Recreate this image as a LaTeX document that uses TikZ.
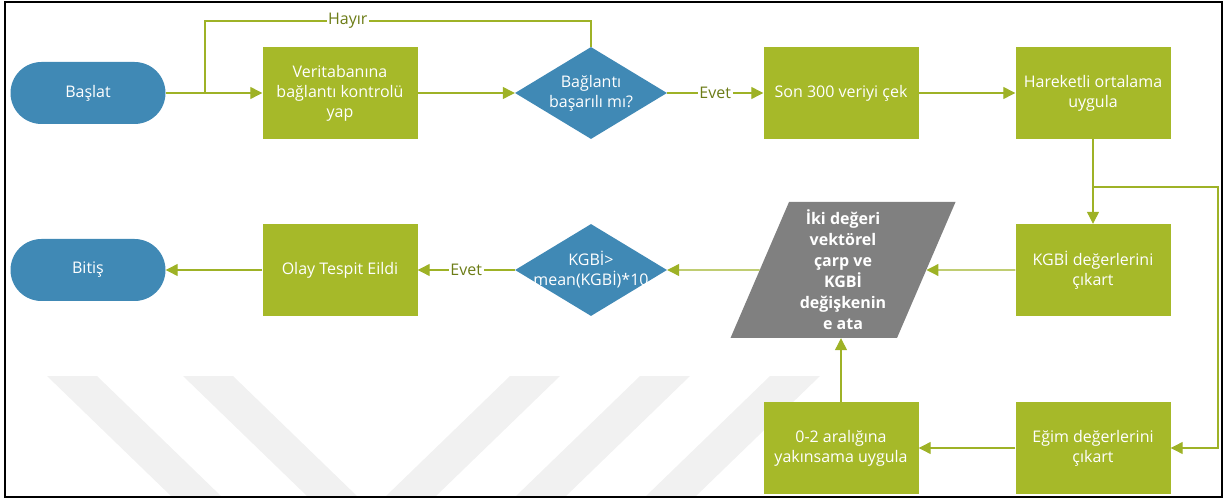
\documentclass[tikz,border=0pt]{standalone}
\usepackage{fontspec}
\setmainfont{Open Sans}
\usetikzlibrary{arrows.meta, shapes.geometric}

\definecolor{boxgreen}{RGB}{166,185,41}
\definecolor{linegreen}{RGB}{158,178,38}
\definecolor{steelblue}{RGB}{64,137,181}
\definecolor{taggreen}{RGB}{108,124,22}
\definecolor{wmark}{RGB}{241,241,241}

\begin{document}
\begin{tikzpicture}[x=1pt, y=-1pt, >={Triangle[length=12pt,width=12pt]},
    process/.style={rectangle, fill=boxgreen, text=white, minimum width=155pt, minimum height=92pt,
        align=center, inner sep=2pt, font=\fontsize{16}{20}\selectfont},
    terminal/.style={rectangle, rounded corners=31pt, fill=steelblue, text=white, minimum width=155pt,
        minimum height=62pt, font=\fontsize{16}{20}\selectfont},
    decision/.style={diamond, fill=steelblue, minimum width=152pt, minimum height=92pt, inner sep=0pt},
    dectext/.style={text=white, align=center, font=\fontsize{16}{20}\selectfont},
    datablock/.style={trapezium, trapezium left angle=64, trapezium right angle=116,
        trapezium stretches body, fill=gray, text=white, minimum width=225pt, minimum height=136pt,
        inner sep=0pt, align=center, font=\fontsize{16}{21}\selectfont\bfseries},
    flow/.style={draw=linegreen, line width=1.2pt},
    tag/.style={fill=white, text=taggreen, inner sep=1.5pt, font=\fontsize{16}{20}\selectfont}
    ]
    \useasboundingbox (0,0) rectangle (1228,502);

    % Watermark stripes
    \foreach \xa/\dx in {47/125, 183/125, 510/-125, 640/-125, 770/-125}
        \fill[wmark] (\xa,376) -- ++(50,0) -- ++(\dx,121) -- ++(-50,0) -- cycle;

    % Frame
    \draw[line width=2pt] (4.5,2) rectangle (1221.5,497);

    % Define coordinates
    \coordinate (join) at (205,93);
    \coordinate (loop) at (205,21);
    \coordinate (split) at (1093,187);
    \coordinate (edge) at (1218,187);

    % Top row
    \node[terminal] (start) at (88,93) {Başlat};
    \node[process] (check) at (340,93) {Veritabanına\\bağlantı kontrolü\\yap};
    \node[decision, label={[dectext]center:{Bağlantı\\başarılı mı?}}] (conn) at (591,93) {};
    \node[process] (fetch) at (841,93) {Son 300 veriyi çek};
    \node[process] (smooth) at (1093,93) {Hareketli ortalama\\uygula};

    % Middle row
    \node[terminal] (stop) at (88,270) {Bitiş};
    \node[process] (event) at (340,270) {Olay Tespit Eildi};
    \node[decision, label={[dectext]center:{KGBİ>\\mean(KGBİ)*10}}] (thresh) at (591,270) {};
    \node[datablock] (product) at (843,270) {İki değeri\\vektörel\\çarp ve\\KGBİ\\değişkenin\\e ata};
    \node[process] (kgbi) at (1093,270) {KGBİ değerlerini\\çıkart};

    % Bottom row
    \node[process] (norm) at (841,448) {0-2 aralığına\\yakınsama uygula};
    \node[process] (slope) at (1093,448) {Eğim değerlerini\\çıkart};

    % Draw connectors
    \draw[flow,->] (start) -- (check);
    \draw[flow] (conn.north) |- node[tag, pos=0.815] {Hayır} (loop) -- (join);
    \draw[flow,->] (check) -- (conn);
    \draw[flow,->] (conn) -- node[tag] {Evet} (fetch);
    \draw[flow,->] (fetch) -- (smooth);
    \draw[flow] (smooth) -- (split);
    \draw[flow,->] (split) -- (kgbi);
    \draw[flow,->] (split) -- (edge) |- (slope);
    \draw[flow,->] (kgbi) -- (product);
    \draw[flow,->] (product) -- (thresh);
    \draw[flow,->] (thresh) -- node[tag] {Evet} (event);
    \draw[flow,->] (event) -- (stop);
    \draw[flow,->] (slope) -- (norm);
    \draw[flow,->] (norm) -- (norm.north |- product.south);
\end{tikzpicture}
\end{document}
